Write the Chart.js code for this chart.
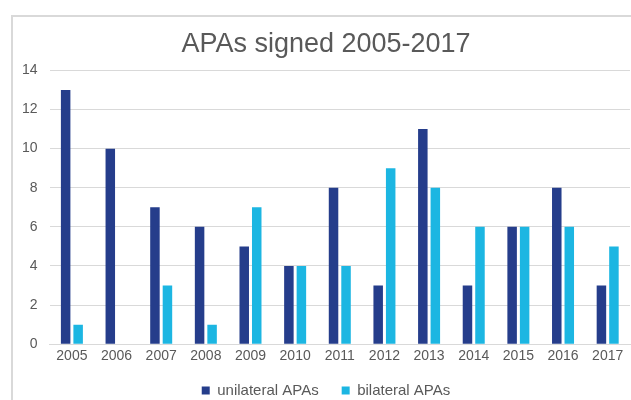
<!DOCTYPE html>
<html>
<head>
<meta charset="utf-8">
<script src="https://cdn.jsdelivr.net/npm/chart.js@4"></script>
<style>
html,body{margin:0;padding:0;background:#fff;}
#wrap{position:absolute;left:0;top:0;width:631px;height:400px;}
</style>
</head>
<body>
<div id="wrap"><canvas id="c" width="631" height="400"></canvas></div>
<script>
const years = ['2005','2006','2007','2008','2009','2010','2011','2012','2013','2014','2015','2016','2017'];
const unilateral = [13,10,7,6,5,4,8,3,11,3,6,8,3];
const bilateral = [1,0,3,1,7,4,4,9,8,6,6,6,5];
const seriesNames = ['unilateral APAs','bilateral APAs'];
const titleText = 'APAs signed 2005-2017';

const frame = {
  id:'frame',
  beforeDraw(chart){
    const ctx = chart.ctx;
    ctx.save();
    ctx.fillStyle = '#fff';
    ctx.fillRect(0,0,chart.width,chart.height);
    ctx.strokeStyle = '#d9d9d9';
    ctx.lineWidth = 2;
    ctx.beginPath();
    ctx.moveTo(12, chart.height);
    ctx.lineTo(12, 16);
    ctx.lineTo(chart.width, 16);
    ctx.stroke();
    ctx.restore();
  }
};

const FONT = "'Liberation Sans', Arial, sans-serif";
new Chart(document.getElementById('c'), {
  type:'bar',
  data:{
    labels: years,
    datasets:[
      {label: seriesNames[0], data: unilateral, backgroundColor:'#253D8B', borderWidth:0},
      {label: seriesNames[1], data: bilateral, backgroundColor:'#1CB6E2', borderWidth:0}
    ]
  },
  options:{
    responsive:false,
    animation:false,
    devicePixelRatio:1,
    layout:{padding:{left:22,right:1,top:28,bottom:-8}},
    datasets:{bar:{categoryPercentage:0.56,barPercentage:0.76}},
    plugins:{
      title:{display:true,text:titleText,color:'#595959',font:{family:FONT,size:27,weight:'normal'},padding:{top:0,bottom:10}},
      legend:{position:'bottom',labels:{color:'#595959',font:{family:FONT,size:15},boxWidth:8,boxHeight:8,padding:23}},
      tooltip:{enabled:false}
    },
    scales:{
      x:{
        grid:{display:false,drawTicks:false},
        border:{display:true,color:'#d9d9d9',width:1},
        ticks:{color:'#595959',font:{family:FONT,size:14},padding:4,maxRotation:0},
        afterFit(axis){ axis.height -= 9; }
      },
      y:{
        min:0,max:14,
        ticks:{stepSize:2,color:'#595959',font:{family:FONT,size:14},padding:12},
        grid:{color:'#d9d9d9',drawTicks:false,lineWidth:1},
        border:{display:false},
        afterFit(axis){ axis.width -= 12; }
      }
    }
  },
  plugins:[frame]
});
</script>
</body>
</html>
